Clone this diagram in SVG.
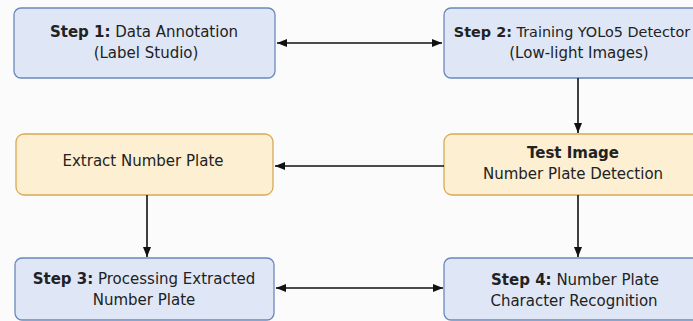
<svg xmlns="http://www.w3.org/2000/svg" width="693" height="321" viewBox="0 0 693 321">
<defs>
<style>
.blue{fill:#dfe7f6;stroke:#6a88bd;stroke-width:1.3}
.orange{fill:#fcefd2;stroke:#d8a957;stroke-width:1.3}
text{font-family:"DejaVu Sans","Noto Sans",sans-serif;font-size:15px;fill:#222;text-anchor:middle}
.b{font-weight:bold}
.conn{stroke:#111;stroke-width:1.6;fill:none}
</style>
<marker id="ah" viewBox="0 0 10 8" refX="10" refY="4" markerWidth="10" markerHeight="8" markerUnits="userSpaceOnUse" orient="auto-start-reverse">
<path d="M0,0 L10,4 L0,8 Z" fill="#111"/>
</marker>
</defs>
<rect width="693" height="321" fill="#fbfbfb"/>
<g id="step1">
<rect class="blue" x="14" y="8" width="261" height="70" rx="7"/>
<text x="144" y="37"><tspan class="b">Step 1:</tspan> Data Annotation</text>
<text x="146" y="58">(Label Studio)</text>
</g>
<g id="step2">
<rect class="blue" x="444" y="8" width="268" height="70" rx="7"/>
<text x="572" y="37" style="font-size:14.4px"><tspan class="b">Step 2:</tspan> Training YOLo5 Detector</text>
<text x="579" y="58">(Low-light Images)</text>
</g>
<g id="extract">
<rect class="orange" x="16" y="134" width="257" height="61" rx="8"/>
<text x="143" y="166">Extract Number Plate</text>
</g>
<g id="test">
<rect class="orange" x="444" y="134" width="268" height="61" rx="8"/>
<text class="b" x="573" y="158">Test Image</text>
<text x="573" y="179">Number Plate Detection</text>
</g>
<g id="step3">
<rect class="blue" x="15" y="258" width="259" height="62" rx="7"/>
<text x="144" y="284"><tspan class="b">Step 3:</tspan> Processing Extracted</text>
<text x="144" y="305">Number Plate</text>
</g>
<g id="step4">
<rect class="blue" x="444" y="258" width="268" height="62" rx="7"/>
<text x="575" y="285"><tspan class="b">Step 4:</tspan> Number Plate</text>
<text x="574" y="306">Character Recognition</text>
</g>
<g id="connectors">
<line class="conn" x1="277" y1="43" x2="442" y2="43" marker-start="url(#ah)" marker-end="url(#ah)"/>
<line class="conn" x1="578" y1="78" x2="578" y2="133" marker-end="url(#ah)"/>
<line class="conn" x1="444" y1="166" x2="275" y2="166" marker-end="url(#ah)"/>
<line class="conn" x1="147" y1="195" x2="147" y2="257" marker-end="url(#ah)"/>
<line class="conn" x1="578" y1="195" x2="578" y2="257" marker-end="url(#ah)"/>
<line class="conn" x1="276" y1="288" x2="443" y2="288" marker-start="url(#ah)" marker-end="url(#ah)"/>
</g>
</svg>
